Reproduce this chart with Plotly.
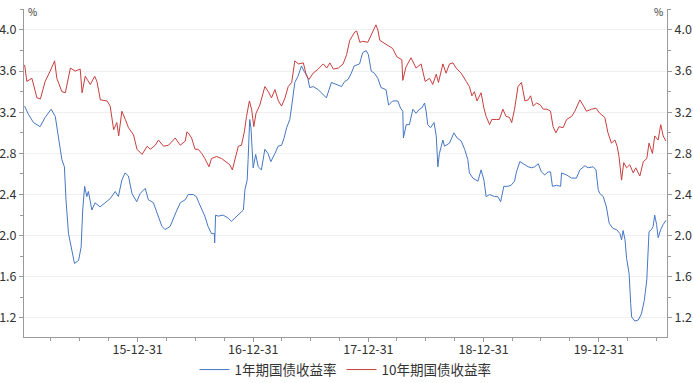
import plotly.graph_objects as go
import pandas as pd

# ---------------- data ----------------
dates_1y = [
    "2015-01-07", "2015-01-19", "2015-02-04", "2015-02-25", "2015-03-13", "2015-04-01", "2015-04-14",
    "2015-04-24", "2015-05-05", "2015-05-13", "2015-05-18", "2015-05-26", "2015-06-05", "2015-06-14",
    "2015-06-27", "2015-07-05", "2015-07-10", "2015-07-16", "2015-07-23", "2015-07-28", "2015-08-08",
    "2015-08-18", "2015-09-03", "2015-09-19", "2015-10-05", "2015-10-21", "2015-10-31", "2015-11-11",
    "2015-11-21", "2015-12-02", "2015-12-13", "2015-12-28", "2016-01-08", "2016-01-24", "2016-02-03",
    "2016-02-19", "2016-03-06", "2016-03-17", "2016-03-27", "2016-04-12", "2016-04-28", "2016-05-14",
    "2016-05-30", "2016-06-08", "2016-06-24", "2016-07-04", "2016-07-12", "2016-07-20", "2016-07-31",
    "2016-08-10", "2016-08-21", "2016-08-30", "2016-08-31", "2016-09-03", "2016-09-11", "2016-09-27",
    "2016-10-13", "2016-10-23", "2016-11-03", "2016-11-19", "2016-11-30", "2016-12-05", "2016-12-12",
    "2016-12-15", "2016-12-20", "2016-12-24", "2016-12-31", "2017-01-08", "2017-01-16", "2017-01-26",
    "2017-02-06", "2017-02-16", "2017-02-25", "2017-03-10", "2017-03-20", "2017-03-31", "2017-04-08",
    "2017-04-16", "2017-04-26", "2017-05-02", "2017-05-12", "2017-05-22", "2017-06-02", "2017-06-10",
    "2017-06-21", "2017-06-28", "2017-07-09", "2017-07-25", "2017-08-10", "2017-08-20", "2017-09-05",
    "2017-09-21", "2017-10-07", "2017-10-17", "2017-10-28", "2017-11-07", "2017-11-16", "2017-12-03",
    "2017-12-13", "2017-12-24", "2017-12-31", "2018-01-09", "2018-01-19", "2018-01-30", "2018-02-09",
    "2018-02-25", "2018-03-05", "2018-03-18", "2018-04-03", "2018-04-12", "2018-04-19", "2018-04-21",
    "2018-04-30", "2018-05-10", "2018-05-21", "2018-05-31", "2018-06-11", "2018-06-18", "2018-06-27",
    "2018-07-02", "2018-07-07", "2018-07-16", "2018-07-27", "2018-08-03", "2018-08-08", "2018-08-13",
    "2018-08-24", "2018-08-29", "2018-09-14", "2018-09-28", "2018-10-08", "2018-10-21", "2018-11-01",
    "2018-11-11", "2018-11-16", "2018-11-27", "2018-12-13", "2018-12-23", "2019-01-01", "2019-01-08",
    "2019-01-19", "2019-02-04", "2019-02-14", "2019-02-23", "2019-03-05", "2019-03-18", "2019-03-28",
    "2019-04-08", "2019-04-14", "2019-04-25", "2019-05-05", "2019-05-21", "2019-06-01", "2019-06-11",
    "2019-06-22", "2019-07-02", "2019-07-13", "2019-07-23", "2019-07-31", "2019-08-06", "2019-08-19",
    "2019-09-01", "2019-09-04", "2019-09-20", "2019-10-06", "2019-10-21", "2019-11-01", "2019-11-17",
    "2019-11-27", "2019-12-13", "2019-12-22", "2019-12-29", "2020-01-03", "2020-01-14", "2020-01-24",
    "2020-02-02", "2020-02-14", "2020-02-25", "2020-03-07", "2020-03-12", "2020-03-17", "2020-03-23",
    "2020-03-28", "2020-04-05", "2020-04-10", "2020-04-13", "2020-04-23", "2020-05-04", "2020-05-14",
    "2020-05-23", "2020-05-31", "2020-06-04", "2020-06-07", "2020-06-15", "2020-06-20", "2020-06-25",
    "2020-07-01", "2020-07-06", "2020-07-14", "2020-07-22", "2020-07-31",
]
yield_1y = [
    3.26, 3.18, 3.10, 3.06, 3.15, 3.23, 3.16,
    2.97, 2.74, 2.67, 2.35, 2.02, 1.88, 1.73,
    1.76, 1.89, 2.25, 2.48, 2.38, 2.43, 2.25,
    2.32, 2.28, 2.32, 2.36, 2.43, 2.38, 2.54,
    2.61, 2.58, 2.41, 2.33, 2.41, 2.46, 2.35,
    2.32, 2.19, 2.09, 2.06, 2.09, 2.21, 2.32,
    2.35, 2.40, 2.40, 2.38, 2.32, 2.27, 2.19,
    2.09, 2.02, 2.02, 1.93, 2.20, 2.19, 2.20,
    2.17, 2.14, 2.17, 2.22, 2.25, 2.45, 2.54,
    2.74, 3.13, 3.05, 2.66, 2.79, 2.67, 2.64,
    2.84, 2.80, 2.72, 2.80, 2.87, 2.88, 2.95,
    3.05, 3.13, 3.26, 3.49, 3.55, 3.65, 3.60,
    3.55, 3.44, 3.45, 3.42, 3.37, 3.34, 3.49,
    3.47, 3.45, 3.50, 3.52, 3.58, 3.65, 3.67,
    3.78, 3.80, 3.76, 3.60, 3.58, 3.53, 3.44,
    3.42, 3.27, 3.31, 3.31, 3.24, 3.21, 2.95,
    3.08, 3.08, 3.23, 3.19, 3.23, 3.24, 3.29,
    3.21, 3.08, 3.05, 3.10, 2.97, 2.67, 2.80,
    2.93, 2.87, 2.90, 3.00, 2.95, 2.92, 2.84,
    2.74, 2.61, 2.56, 2.53, 2.64, 2.54, 2.38,
    2.40, 2.38, 2.38, 2.33, 2.48, 2.48, 2.49,
    2.53, 2.62, 2.72, 2.70, 2.67, 2.66, 2.67,
    2.70, 2.62, 2.59, 2.62, 2.62, 2.48, 2.49,
    2.48, 2.61, 2.59, 2.56, 2.56, 2.64, 2.68,
    2.66, 2.67, 2.64, 2.45, 2.41, 2.38, 2.28,
    2.12, 2.07, 2.06, 2.02, 1.96, 2.05, 1.96,
    1.78, 1.63, 1.34, 1.21, 1.17, 1.18, 1.24,
    1.37, 1.57, 1.83, 2.04, 2.06, 2.09, 2.20,
    2.11, 1.98, 2.06, 2.11, 2.15,
]

dates_10y = [
    "2015-01-07", "2015-01-14", "2015-01-30", "2015-02-15", "2015-02-26", "2015-03-13", "2015-03-29",
    "2015-04-12", "2015-04-19", "2015-05-05", "2015-05-16", "2015-06-01", "2015-06-16", "2015-07-02",
    "2015-07-08", "2015-07-18", "2015-08-03", "2015-08-17", "2015-08-24", "2015-09-04", "2015-09-25",
    "2015-10-05", "2015-10-16", "2015-10-26", "2015-11-01", "2015-11-11", "2015-11-22", "2015-12-02",
    "2015-12-18", "2015-12-29", "2016-01-14", "2016-01-30", "2016-02-09", "2016-02-25", "2016-03-06",
    "2016-03-22", "2016-04-07", "2016-04-28", "2016-05-14", "2016-05-30", "2016-06-04", "2016-06-08",
    "2016-06-19", "2016-06-30", "2016-07-10", "2016-07-21", "2016-07-31", "2016-08-13", "2016-08-21",
    "2016-09-06", "2016-09-22", "2016-10-08", "2016-10-18", "2016-10-26", "2016-11-03", "2016-11-14",
    "2016-11-24", "2016-12-03", "2016-12-10", "2016-12-19", "2016-12-26", "2017-01-02", "2017-01-09",
    "2017-01-21", "2017-02-06", "2017-02-17", "2017-02-27", "2017-03-10", "2017-03-21", "2017-03-31",
    "2017-04-11", "2017-04-21", "2017-05-02", "2017-05-12", "2017-05-23", "2017-06-08", "2017-06-18",
    "2017-06-26", "2017-07-09", "2017-07-25", "2017-08-10", "2017-08-21", "2017-08-31", "2017-09-11",
    "2017-09-27", "2017-10-12", "2017-10-23", "2017-11-02", "2017-11-18", "2017-11-24", "2017-12-04",
    "2017-12-13", "2017-12-29", "2018-01-11", "2018-01-24", "2018-01-30", "2018-02-05", "2018-02-15",
    "2018-03-02", "2018-03-18", "2018-03-31", "2018-04-16", "2018-04-19", "2018-04-29", "2018-05-15",
    "2018-05-31", "2018-06-16", "2018-06-29", "2018-07-13", "2018-07-23", "2018-08-03", "2018-08-10",
    "2018-08-24", "2018-09-03", "2018-09-14", "2018-09-25", "2018-10-05", "2018-10-21", "2018-11-06",
    "2018-11-16", "2018-11-24", "2018-12-02", "2018-12-10", "2018-12-23", "2019-01-01", "2019-01-08",
    "2019-01-19", "2019-01-26", "2019-02-09", "2019-02-19", "2019-03-02", "2019-03-12", "2019-03-23",
    "2019-03-30", "2019-04-08", "2019-04-13", "2019-04-19", "2019-04-30", "2019-05-05", "2019-05-11",
    "2019-05-21", "2019-05-29", "2019-06-06", "2019-06-17", "2019-06-29", "2019-07-08", "2019-07-20",
    "2019-07-31", "2019-08-08", "2019-08-17", "2019-08-27", "2019-09-09", "2019-09-20", "2019-10-06",
    "2019-10-16", "2019-11-01", "2019-11-11", "2019-11-22", "2019-12-08", "2019-12-22", "2020-01-03",
    "2020-01-19", "2020-01-29", "2020-02-09", "2020-02-20", "2020-02-27", "2020-03-04", "2020-03-12",
    "2020-03-19", "2020-03-28", "2020-04-07", "2020-04-18", "2020-04-26", "2020-05-09", "2020-05-20",
    "2020-05-31", "2020-06-07", "2020-06-18", "2020-06-25", "2020-07-06", "2020-07-14", "2020-07-22",
    "2020-07-30",
]
yield_10y = [
    3.66, 3.50, 3.53, 3.34, 3.33, 3.50, 3.60,
    3.70, 3.53, 3.40, 3.39, 3.63, 3.60, 3.62,
    3.39, 3.55, 3.47, 3.55, 3.50, 3.32, 3.31,
    3.26, 3.03, 3.10, 2.97, 3.21, 3.13, 3.05,
    2.98, 2.84, 2.79, 2.87, 2.84, 2.88, 2.93,
    2.87, 2.88, 2.95, 2.88, 2.92, 3.01, 3.00,
    2.95, 2.84, 2.84, 2.80, 2.75, 2.67, 2.75,
    2.77, 2.75, 2.71, 2.69, 2.64, 2.74, 2.87,
    2.88, 3.01, 3.16, 3.31, 3.23, 3.06, 3.19,
    3.27, 3.45, 3.40, 3.34, 3.42, 3.31, 3.26,
    3.34, 3.45, 3.49, 3.70, 3.67, 3.68, 3.55,
    3.52, 3.58, 3.62, 3.67, 3.63, 3.68, 3.62,
    3.63, 3.67, 3.76, 3.90, 3.98, 3.99, 3.88,
    3.89, 3.88, 3.97, 4.05, 4.00, 3.90, 3.88,
    3.85, 3.82, 3.74, 3.71, 3.51, 3.64, 3.73,
    3.63, 3.67, 3.50, 3.53, 3.47, 3.57, 3.49,
    3.67, 3.58, 3.67, 3.68, 3.63, 3.58, 3.50,
    3.45, 3.36, 3.40, 3.31, 3.39, 3.24, 3.16,
    3.08, 3.13, 3.13, 3.13, 3.23, 3.16, 3.15,
    3.10, 3.23, 3.34, 3.45, 3.49, 3.42, 3.31,
    3.32, 3.36, 3.26, 3.29, 3.27, 3.23, 3.23,
    3.21, 3.06, 3.00, 3.06, 3.05, 3.13, 3.16,
    3.21, 3.32, 3.27, 3.21, 3.23, 3.24, 3.19,
    3.15, 3.00, 2.90, 2.93, 2.87, 2.77, 2.54,
    2.71, 2.66, 2.69, 2.61, 2.66, 2.58, 2.72,
    2.75, 2.90, 2.80, 2.97, 2.93, 3.08, 2.97,
    2.92,
]

series_names = ["1年期国债收益率", "10年期国债收益率"]
year_end_ticks = ["2015-12-31", "2016-12-31", "2017-12-31", "2018-12-31", "2019-12-31"]
year_end_labels = ["15-12-31", "16-12-31", "17-12-31", "18-12-31", "19-12-31"]
y_tick_values = [1.2, 1.6, 2.0, 2.4, 2.8, 3.2, 3.6, 4.0]
y_tick_labels = ["1.2", "1.6", "2.0", "2.4", "2.8", "3.2", "3.6", "4.0"]
x_window = ["2015-01-05", "2020-08-03"]
y_window = [1.015, 4.204]
unit_label = "%"

# ---------------- figure ----------------
FONT = "Noto Sans CJK SC, Noto Sans, sans-serif"
AXIS = "#9a9a9a"
TXT = "#333333"
BLUE = "#4677c3"
RED = "#c83e3e"

quarter_ends = [d.strftime("%Y-%m-%d") for d in pd.date_range("2015-03-31", "2020-06-30", freq="QE")]

fig = go.Figure()
fig.add_trace(go.Scatter(x=dates_1y, y=yield_1y, name=series_names[0], mode="lines",
                         line=dict(color=BLUE, width=1)))
fig.add_trace(go.Scatter(x=dates_10y, y=yield_10y, name=series_names[1], mode="lines",
                         line=dict(color=RED, width=1), yaxis="y2"))

common_y = dict(range=y_window, tickmode="array", tickvals=y_tick_values, ticktext=y_tick_labels,
                ticks="outside", ticklen=4, tickcolor=AXIS, showline=True, linecolor=AXIS,
                linewidth=1, zeroline=False, automargin=False,
                tickfont=dict(family=FONT, size=12.5, color=TXT),
                minor=dict(tickmode="linear", tick0=1.0, dtick=0.2, ticks="outside",
                           ticklen=3, tickcolor=AXIS, showgrid=False))

fig.update_layout(
    width=693, height=383,
    margin=dict(l=24, r=26, t=9, b=46, autoexpand=False),
    paper_bgcolor="white", plot_bgcolor="white",
    font=dict(family=FONT, color=TXT),
    showlegend=True,
    legend=dict(orientation="h", x=0.5, xanchor="center", y=-0.1, yanchor="middle",
                font=dict(family=FONT, size=13.5, color=TXT), itemwidth=30,
                bgcolor="rgba(0,0,0,0)", tracegroupgap=0),
    xaxis=dict(type="date", range=x_window, tickmode="array", tickvals=year_end_ticks,
               ticktext=year_end_labels, ticks="outside", ticklen=4, tickcolor=AXIS,
               showline=True, linecolor=AXIS, linewidth=1, showgrid=False, zeroline=False,
               automargin=False, ticklabelstandoff=-3,
               tickfont=dict(family=FONT, size=12.5, color=TXT),
               minor=dict(tickmode="array", tickvals=quarter_ends, ticks="outside",
                          ticklen=3, tickcolor=AXIS, showgrid=False)),
    yaxis=dict(side="left", showgrid=True, gridcolor="#f0f0f0", gridwidth=1, **common_y),
    yaxis2=dict(side="right", overlaying="y", showgrid=False, **common_y),
    annotations=[
        dict(text=unit_label, xref="paper", yref="paper", x=0, y=1, xanchor="left",
             yanchor="middle", xshift=2, yshift=-2, showarrow=False,
             font=dict(family=FONT, size=10, color=TXT)),
        dict(text=unit_label, xref="paper", yref="paper", x=1, y=1, xanchor="right",
             yanchor="middle", xshift=-2, yshift=-2, showarrow=False,
             font=dict(family=FONT, size=10, color=TXT)),
    ],
)

# remove the browser's default 8px page margin so the figure fills the window exactly
fig.write_html("out.html", config={"displayModeBar": False},
               post_script="document.body.style.margin='0';")
